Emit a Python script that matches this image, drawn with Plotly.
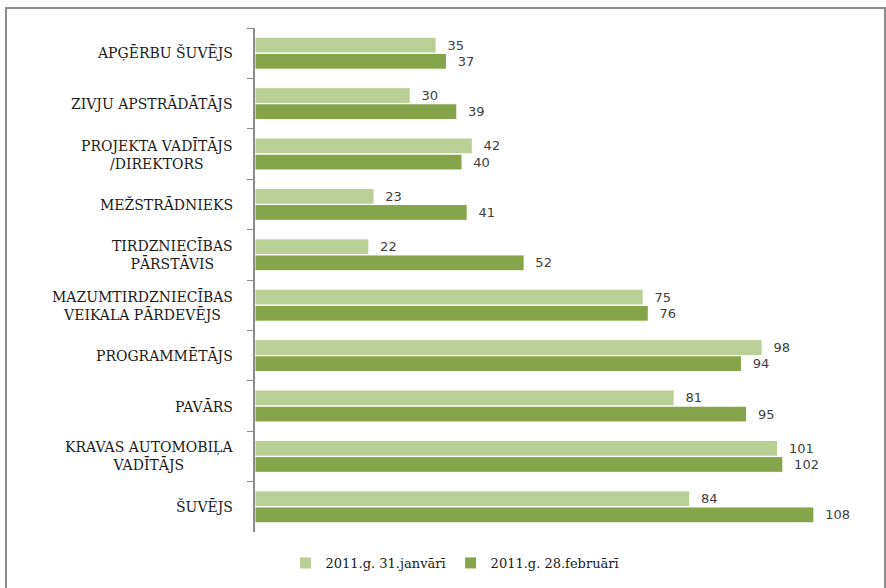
import plotly.graph_objects as go

categories = [
    "APĢĒRBU ŠUVĒJS",
    "ZIVJU APSTRĀDĀTĀJS",
    "PROJEKTA VADĪTĀJS<br>/DIREKTORS",
    "MEŽSTRĀDNIEKS",
    "TIRDZNIECĪBAS<br>PĀRSTĀVIS",
    "MAZUMTIRDZNIECĪBAS<br>VEIKALA PĀRDEVĒJS",
    "PROGRAMMĒTĀJS",
    "PAVĀRS",
    "KRAVAS AUTOMOBIĻA<br>VADĪTĀJS",
    "ŠUVĒJS",
]
jan_values = [35, 30, 42, 23, 22, 75, 98, 81, 101, 84]
feb_values = [37, 39, 40, 41, 52, 76, 94, 95, 102, 108]
series_names = ["2011.g. 31.janvārī", "2011.g. 28.februārī"]

LIGHT = "#B9CF96"
DARK = "#86A44A"

fig = go.Figure()
fig.add_trace(go.Bar(
    y=categories, x=jan_values, orientation="h", name=series_names[0],
    marker=dict(color=LIGHT, line=dict(color="white", width=1)),
    text=[f"  {v}" for v in jan_values], textposition="outside",
    textfont=dict(family="DejaVu Sans", size=13, color="#404040"),
    cliponaxis=False,
))
fig.add_trace(go.Bar(
    y=categories, x=feb_values, orientation="h", name=series_names[1],
    marker=dict(color=DARK, line=dict(color="white", width=1)),
    text=[f"  {v}" for v in feb_values], textposition="outside",
    textfont=dict(family="DejaVu Sans", size=13, color="#404040"),
    cliponaxis=False,
))

L, R, T, B = 255, 10, 28, 56
W, H = 886, 588
pw, ph = W - L - R, H - T - B

annotations = []
for c in categories:
    annotations.append(dict(
        x=(235 - L) / pw, xref="paper", y=c, yref="y",
        text=c, showarrow=False, xanchor="right", yanchor="middle", align="center",
        font=dict(family="DejaVu Serif", size=14, color="#1a1a1a"),
    ))

fig.update_layout(
    width=W, height=H,
    margin=dict(l=L, r=R, t=T, b=B),
    paper_bgcolor="white", plot_bgcolor="white",
    barmode="group", bargap=0.36, bargroupgap=0.02,
    showlegend=True,
    legend=dict(
        orientation="h", x=(455 - L) / pw, xanchor="center",
        y=-31 / ph, yanchor="middle",
        font=dict(family="DejaVu Serif", size=13, color="#1a1a1a"),
        itemwidth=30, tracegroupgap=0,
    ),
    annotations=annotations,
    shapes=[dict(
        type="rect", xref="paper", yref="paper",
        x0=(6 - L) / pw, x1=(885 - L) / pw,
        y0=-0.2, y1=(H - B - 8) / ph,
        line=dict(color="#8c8c8c", width=2), fillcolor="rgba(0,0,0,0)", layer="below",
    )],
    xaxis=dict(range=[0, 120], visible=False),
    yaxis=dict(
        type="category", autorange="reversed",
        showticklabels=False, ticks="outside", tickson="boundaries",
        ticklen=6, tickcolor="#8c8c8c", showline=True, linecolor="#8c8c8c",
        linewidth=1.5, showgrid=False, zeroline=False,
    ),
)

fig.write_html(
    "out.html",
    config={"displayModeBar": False},
    post_script="document.body.style.margin='0';document.body.style.padding='0';",
)
